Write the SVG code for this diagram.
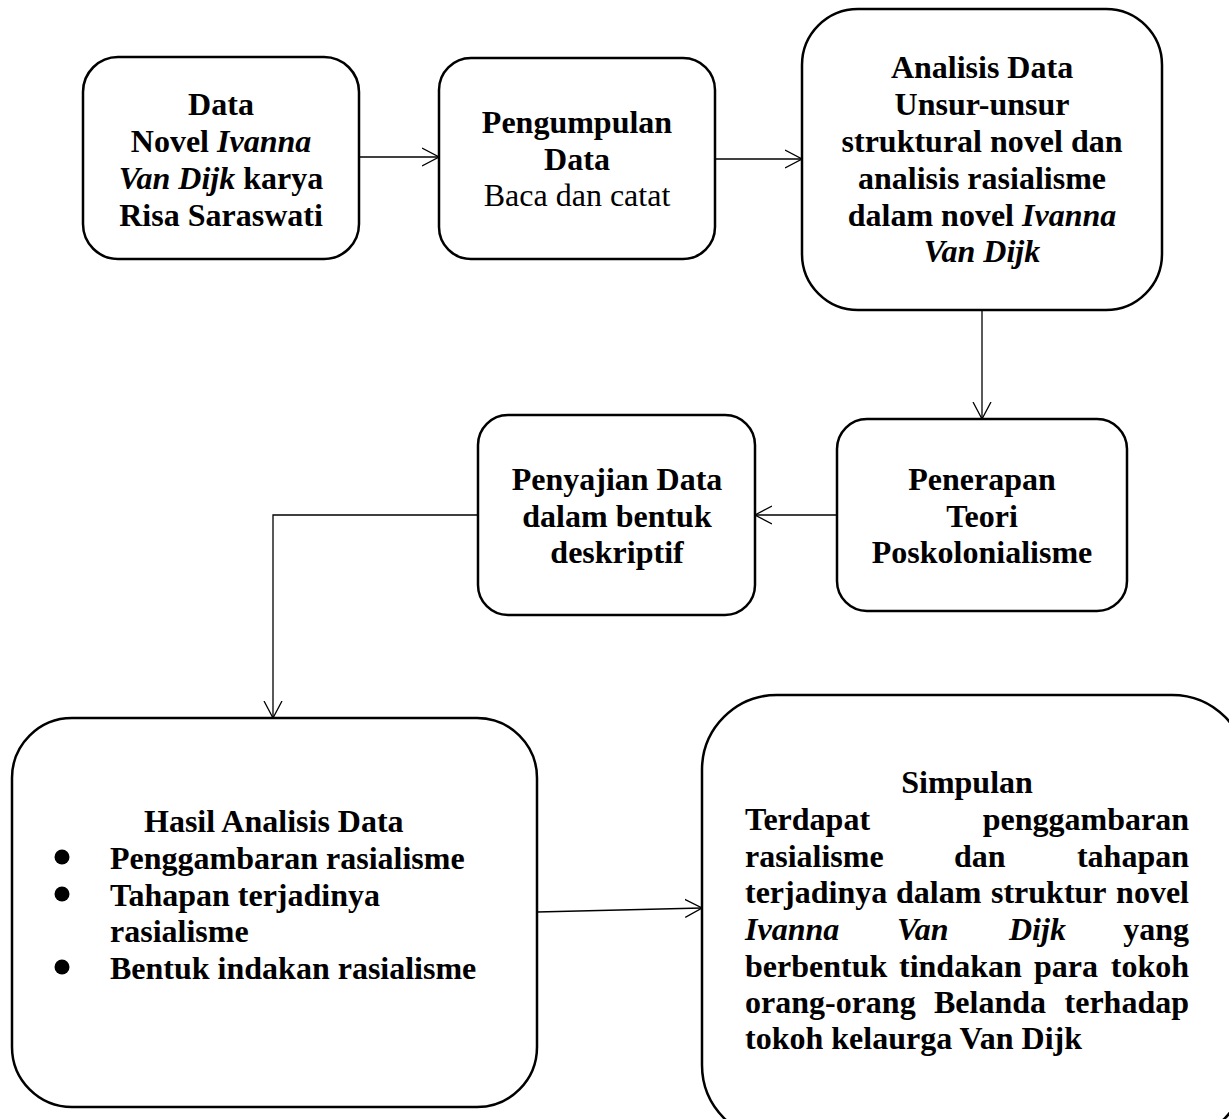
<svg xmlns="http://www.w3.org/2000/svg" width="1229" height="1119" viewBox="0 0 1229 1119">
<style>
.box{fill:#fff;stroke:#000;stroke-width:2.5}
.t{font-family:"Liberation Serif","Times New Roman",serif;font-size:32px;font-weight:bold;fill:#000}
.c{text-anchor:middle}
.e{text-anchor:end}
.i{font-style:italic}
.r{font-weight:normal}
.conn{fill:none;stroke:#000;stroke-width:1.3}
</style>
<defs>
<marker id="ah" viewBox="0 0 18 20" refX="17" refY="10" markerWidth="18" markerHeight="20" markerUnits="userSpaceOnUse" orient="auto">
<path d="M0,1 L17,10 L0,19" fill="none" stroke="#000" stroke-width="1.3"/>
</marker>
</defs>
<rect width="1229" height="1119" fill="#fff"/>
<g id="connectors">
<path class="conn" d="M359,157 L439,157" marker-end="url(#ah)"/>
<path class="conn" d="M715,159 L802,159" marker-end="url(#ah)"/>
<path class="conn" d="M982,310 L982,419" marker-end="url(#ah)"/>
<path class="conn" d="M837,515 L755,515" marker-end="url(#ah)"/>
<path class="conn" d="M478,515 L273,515 L273,718" marker-end="url(#ah)"/>
<path class="conn" d="M537,912 L702,908" marker-end="url(#ah)"/>
</g>
<g id="node-data">
<rect class="box" x="83" y="57" width="276" height="202" rx="35"/>
<text class="t c" x="221" y="115">Data</text>
<text class="t c" x="221" y="152">Novel <tspan class="i">Ivanna</tspan></text>
<text class="t c" x="221" y="189"><tspan class="i">Van Dijk</tspan> karya</text>
<text class="t c" x="221" y="226">Risa Saraswati</text>
</g>
<g id="node-pengumpulan">
<rect class="box" x="439" y="58" width="276" height="201" rx="32"/>
<text class="t c" x="577" y="133">Pengumpulan</text>
<text class="t c" x="577" y="170">Data</text>
<text class="t c r" x="577" y="206">Baca dan catat</text>
</g>
<g id="node-analisis">
<rect class="box" x="802" y="9" width="360" height="301" rx="56"/>
<text class="t c" x="982" y="78">Analisis Data</text>
<text class="t c" x="982" y="115">Unsur-unsur</text>
<text class="t c" x="982" y="152">struktural novel dan</text>
<text class="t c" x="982" y="189">analisis rasialisme</text>
<text class="t c" x="982" y="226">dalam novel <tspan class="i">Ivanna</tspan></text>
<text class="t c i" x="982" y="262">Van Dijk</text>
</g>
<g id="node-penerapan">
<rect class="box" x="837" y="419" width="290" height="192" rx="30"/>
<text class="t c" x="982" y="490">Penerapan</text>
<text class="t c" x="982" y="527">Teori</text>
<text class="t c" x="982" y="563">Poskolonialisme</text>
</g>
<g id="node-penyajian">
<rect class="box" x="478" y="415" width="277" height="200" rx="30"/>
<text class="t c" x="617" y="490">Penyajian Data</text>
<text class="t c" x="617" y="527">dalam bentuk</text>
<text class="t c" x="617" y="563">deskriptif</text>
</g>
<g id="node-hasil">
<rect class="box" x="12" y="718" width="525" height="389" rx="60"/>
<text class="t" x="144" y="832">Hasil Analisis Data</text>
<circle cx="62" cy="857" r="7.5" fill="#000"/>
<circle cx="62" cy="894" r="7.5" fill="#000"/>
<circle cx="62" cy="967" r="7.5" fill="#000"/>
<text class="t" x="110" y="869">Penggambaran rasialisme</text>
<text class="t" x="110" y="906">Tahapan terjadinya</text>
<text class="t" x="110" y="942">rasialisme</text>
<text class="t" x="110" y="979">Bentuk indakan rasialisme</text>
</g>
<g id="node-simpulan">
<rect class="box" x="702" y="695" width="545" height="445" rx="75"/>
<text class="t c" x="967" y="793">Simpulan</text>
<text class="t" x="745" y="830">Terdapat</text>
<text class="t e" x="1189" y="830">penggambaran</text>
<text class="t" x="745" y="867">rasialisme</text>
<text class="t" x="954" y="867">dan</text>
<text class="t e" x="1189" y="867">tahapan</text>
<text class="t" x="745" y="903">terjadinya</text>
<text class="t" x="896" y="903">dalam</text>
<text class="t" x="991" y="903">struktur</text>
<text class="t e" x="1189" y="903">novel</text>
<text class="t i" x="745" y="940">Ivanna</text>
<text class="t i" x="897" y="940">Van</text>
<text class="t i" x="1009" y="940">Dijk</text>
<text class="t e" x="1189" y="940">yang</text>
<text class="t" x="745" y="977">berbentuk</text>
<text class="t" x="899" y="977">tindakan</text>
<text class="t" x="1034" y="977">para</text>
<text class="t e" x="1189" y="977">tokoh</text>
<text class="t" x="745" y="1013">orang-orang</text>
<text class="t" x="934" y="1013">Belanda</text>
<text class="t e" x="1189" y="1013">terhadap</text>
<text class="t" x="745" y="1049">tokoh kelaurga Van Dijk</text>
</g>
</svg>
